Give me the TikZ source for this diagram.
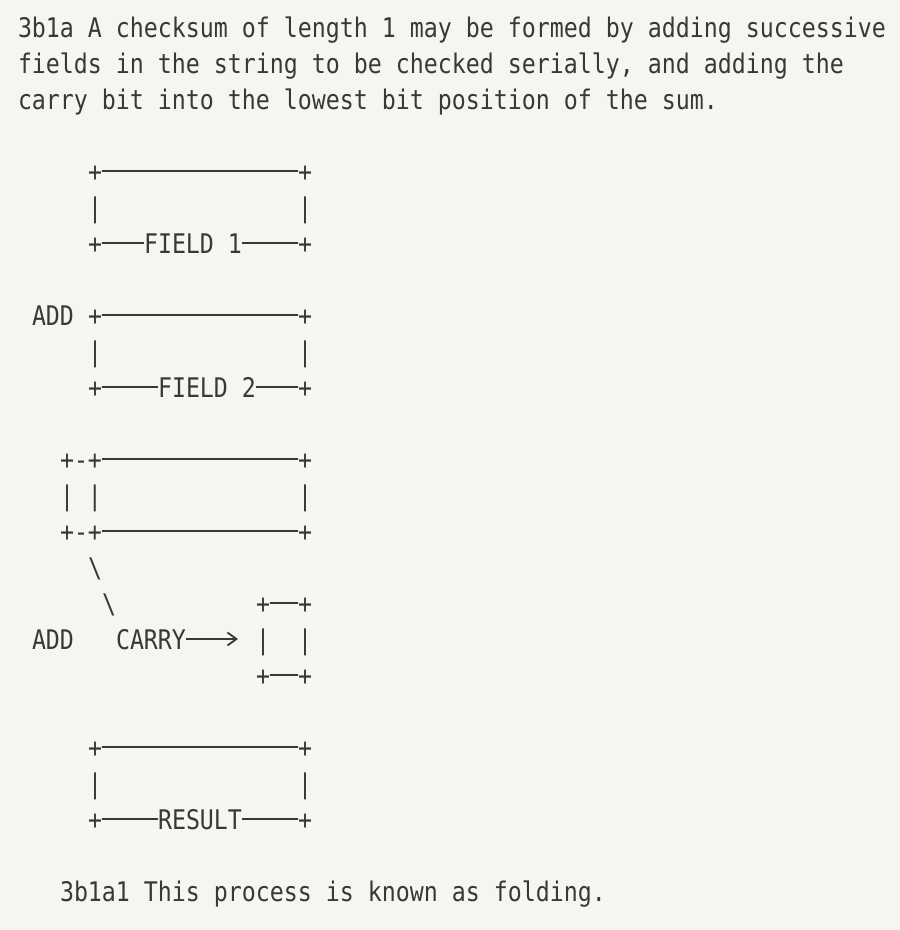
\documentclass[tikz,border=0pt]{standalone}
\usepackage{fontspec}
\usetikzlibrary{arrows.meta}
\newfontfamily\asciimono[FakeStretch=0.8613]{DejaVu Sans Mono}
\definecolor{bg}{RGB}{246,245,240}
\definecolor{ink}{RGB}{56,56,60}
\begin{document}
\begin{tikzpicture}[
  t/.style={anchor=base west, inner sep=0pt, outer sep=0pt, text=ink,
    font=\asciimono\fontsize{27pt}{36pt}\selectfont},
  hl/.style={draw=ink, line width=1.8pt},
  arr/.style={draw=ink, line width=1.8pt, -{Straight Barb[length=9pt,width=13pt,line width=1.8pt]}}
]
\fill[bg] (0pt,0pt) rectangle (900pt,-930pt);
\useasboundingbox (0pt,0pt) rectangle (900pt,-930pt);
\begin{scope}[shift={(18pt,-37pt)}, x=14pt, y=-36pt]
% paragraph
\node[t] (p0) at (0,0) {3b1a A checksum of length 1 may be formed by adding successive};
\node[t] (p1) at (0,1) {fields in the string to be checked serially, and adding the};
\node[t] (p2) at (0,2) {carry bit into the lowest bit position of the sum.};
% box 1
\node[t] (a1) at (5,4) {+}; \node[t] (a2) at (20,4) {+};
\node[t] (a3) at (5,5) {|}; \node[t] (a4) at (20,5) {|};
\node[t] (a5) at (5,6) {+}; \node[t] (f1) at (9,6) {FIELD 1}; \node[t] (a6) at (20,6) {+};
\draw[hl] ([yshift=10pt]a1.base east) -- ([yshift=10pt]a2.base west);
\draw[hl] ([yshift=10pt]a5.base east) -- ([yshift=10pt]f1.base west);
\draw[hl] ([yshift=10pt]f1.base east) -- ([yshift=10pt]a6.base west);
% box 2
\node[t] (add1) at (1,8) {ADD};
\node[t] (b1) at (5,8) {+}; \node[t] (b2) at (20,8) {+};
\node[t] (b3) at (5,9) {|}; \node[t] (b4) at (20,9) {|};
\node[t] (b5) at (5,10) {+}; \node[t] (f2) at (10,10) {FIELD 2}; \node[t] (b6) at (20,10) {+};
\draw[hl] ([yshift=10pt]b1.base east) -- ([yshift=10pt]b2.base west);
\draw[hl] ([yshift=10pt]b5.base east) -- ([yshift=10pt]f2.base west);
\draw[hl] ([yshift=10pt]f2.base east) -- ([yshift=10pt]b6.base west);
% box 3 (sum with carry bit)
\node[t] (c1) at (3,12) {+-+}; \node[t] (c2) at (20,12) {+};
\node[t] (c3) at (3,13) {| |}; \node[t] (c4) at (20,13) {|};
\node[t] (c5) at (3,14) {+-+}; \node[t] (c6) at (20,14) {+};
\draw[hl] ([yshift=10pt]c1.base east) -- ([yshift=10pt]c2.base west);
\draw[hl] ([yshift=10pt]c5.base east) -- ([yshift=10pt]c6.base west);
% diagonal
\node[t] (d1) at (5,15) {\textbackslash};
\node[t] (d2) at (6,16) {\textbackslash};
% carry box
\node[t] (e1) at (17,16) {+}; \node[t] (e2) at (20,16) {+};
\node[t] (e3) at (17,17) {|}; \node[t] (e4) at (20,17) {|};
\node[t] (e5) at (17,18) {+}; \node[t] (e6) at (20,18) {+};
\draw[hl] ([yshift=10pt]e1.base east) -- ([yshift=10pt]e2.base west);
\draw[hl] ([yshift=10pt]e5.base east) -- ([yshift=10pt]e6.base west);
\node[t] (add2) at (1,17) {ADD};
\node[t] (carry) at (7,17) {CARRY};
\draw[arr] ([yshift=10pt]carry.base east) -- ([xshift=-18pt,yshift=10pt]e3.base west);
% result
\node[t] (r1) at (5,20) {+}; \node[t] (r2) at (20,20) {+};
\node[t] (r3) at (5,21) {|}; \node[t] (r4) at (20,21) {|};
\node[t] (r5) at (5,22) {+}; \node[t] (res) at (10,22) {RESULT}; \node[t] (r6) at (20,22) {+};
\draw[hl] ([yshift=10pt]r1.base east) -- ([yshift=10pt]r2.base west);
\draw[hl] ([yshift=10pt]r5.base east) -- ([yshift=10pt]res.base west);
\draw[hl] ([yshift=10pt]res.base east) -- ([yshift=10pt]r6.base west);
% footnote
\node[t] (fn) at (3,24) {3b1a1 This process is known as folding.};
\end{scope}
\end{tikzpicture}
\end{document}
